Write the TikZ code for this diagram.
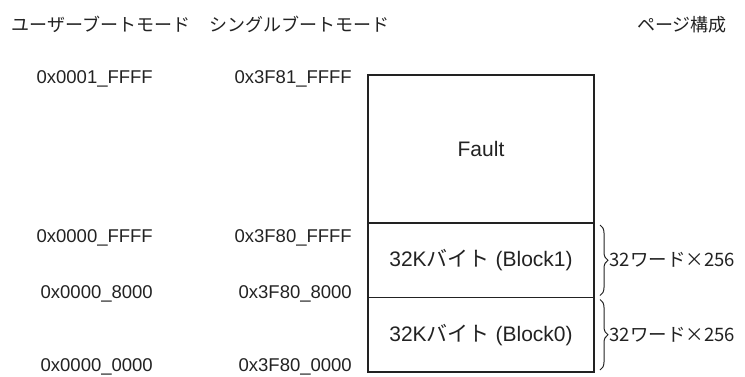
\documentclass[tikz,border=0pt]{standalone}
\usepackage{fontspec}
\setmainfont{Liberation Sans}
\newfontfamily\jpfont{Noto Sans CJK JP}
\usepackage{xcolor}
\usepackage{tikz}
\usetikzlibrary{positioning,decorations.pathreplacing}
\definecolor{MapInk}{HTML}{222222}
\tikzset{
  mapblock/.style={
    draw=MapInk,
    line width=1.3pt,
    minimum width=226pt,
    outer sep=0pt,
    inner sep=0pt,
    text=MapInk,
    font=\fontsize{21}{24}\selectfont
  },
  mapaddr/.style={anchor=base east, inner sep=0pt, text=MapInk, font=\fontsize{18.5}{22}\selectfont},
  maphead/.style={anchor=base, inner sep=0pt, text=MapInk, font=\jpfont\fontsize{18}{22}\selectfont},
  mapbrace/.style={decorate, decoration={brace, amplitude=8pt}, draw=MapInk, line width=1pt},
  mapnote/.style={anchor=west, inner sep=0pt, text=MapInk, font=\jpfont\fontsize{18.5}{22}\selectfont}
}

\begin{document}
\begin{tikzpicture}[x=1pt,y=-1pt]
  \useasboundingbox (0,0) rectangle (745,376);
  % column titles
  \node[maphead] (userhead) at (101,31) {ユーザーブートモード};
  \node[maphead] (singlehead) at (299,31) {シングルブートモード};
  \node[maphead] (pagehead) at (682,31) {ページ構成};
  % memory map
  \node[mapblock, anchor=north west, minimum height=148pt] (fault) at (368,75) {Fault};
  \node[mapblock, below=0pt of fault, minimum height=74.5pt] (blk1) {32K{\jpfont バイト} (Block1)};
  \node[mapblock, below=0pt of blk1, minimum height=74.5pt] (blk0) {32K{\jpfont バイト} (Block0)};
  % addresses
  \node[mapaddr] (u1ffff) at (153,83) {0x0001\_FFFF};
  \node[mapaddr] (s1ffff) at (352,83) {0x3F81\_FFFF};
  \node[mapaddr] (u0ffff) at (153,242) {0x0000\_FFFF};
  \node[mapaddr] (s0ffff) at (352,242) {0x3F80\_FFFF};
  \node[mapaddr] (u08000) at (153,298.5) {0x0000\_8000};
  \node[mapaddr] (s08000) at (352,298.5) {0x3F80\_8000};
  \node[mapaddr] (u00000) at (153,371.5) {0x0000\_0000};
  \node[mapaddr] (s00000) at (352,371.5) {0x3F80\_0000};
  % pages
  \draw[mapbrace] ([xshift=6pt,yshift=-2pt]blk1.north east) -- ([xshift=6pt,yshift=2pt]blk1.south east)
    node[mapnote, midway, xshift=9pt] (note1) {32ワード×256};
  \draw[mapbrace] ([xshift=6pt,yshift=-2pt]blk0.north east) -- ([xshift=6pt,yshift=2pt]blk0.south east)
    node[mapnote, midway, xshift=9pt] (note0) {32ワード×256};
\end{tikzpicture}
\end{document}
